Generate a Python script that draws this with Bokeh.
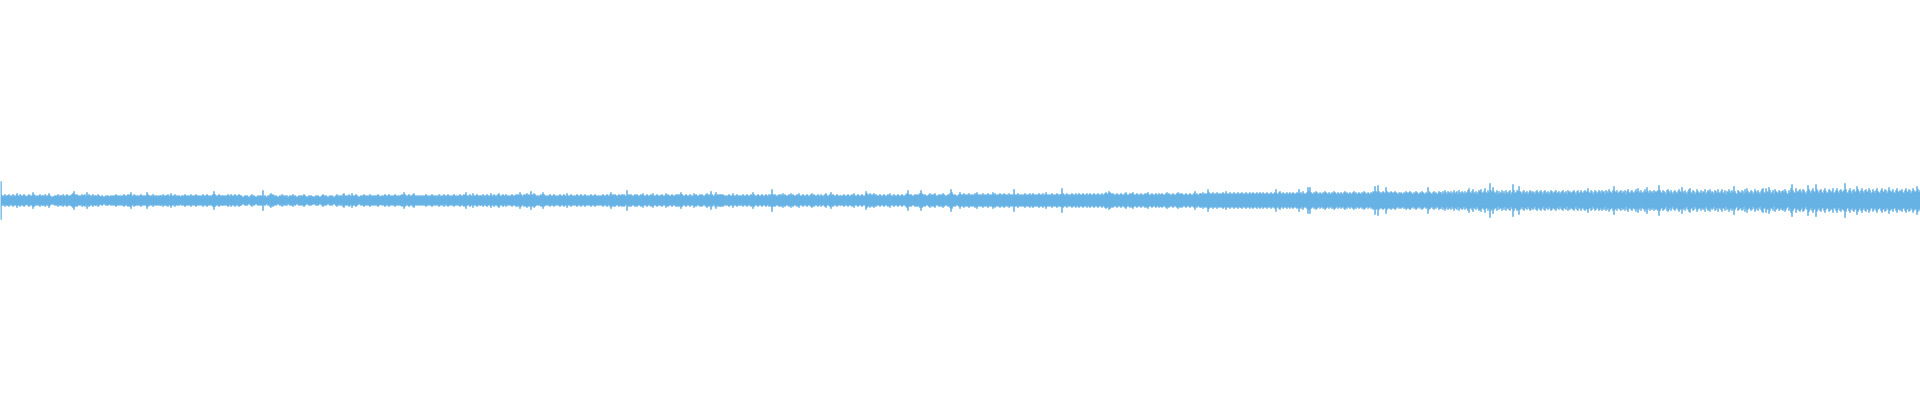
from bokeh.plotting import figure
from bokeh.models import ColumnDataSource, Range1d
from bokeh.embed import file_html
from bokeh.resources import INLINE

# Waveform peak amplitudes (half-height), read segment by segment (240 bars each)
amp_a = [
    19,5,4,5,6,4,5,5,6,4,5,4,6,5,4,5,7,5,4,6,
    5,4,5,6,5,4,4,5,6,5,4,5,8,6,5,4,5,4,5,6,
    4,5,5,4,6,5,4,5,7,5,4,3,4,4,5,4,5,6,4,5,
    5,4,6,5,4,5,6,5,4,5,5,6,7,9,6,5,6,5,4,5,
    4,6,5,5,6,4,8,5,6,5,4,5,6,4,5,5,4,6,5,4,
    4,5,4,3,4,5,4,5,4,4,5,4,5,4,5,6,5,4,5,4,
    5,4,5,6,5,4,5,6,5,6,8,5,4,6,5,5,4,5,4,5,
    6,5,4,5,4,5,8,6,5,4,5,4,6,5,4,5,4,5,4,5,
    5,4,6,5,4,5,5,6,4,5,7,5,4,5,6,4,5,4,5,4,
    4,5,4,5,6,5,4,5,4,5,6,4,5,4,5,6,5,4,5,4,
    5,4,6,5,4,5,6,5,4,5,4,5,6,9,6,5,4,5,6,5,
    4,5,5,4,5,4,5,6,5,4,6,5,4,5,6,5,4,5,6,5,
]
amp_b = [
    5,4,3,4,5,4,5,4,3,4,5,6,4,5,4,3,4,5,4,5,
    4,5,10,4,5,4,3,5,4,6,7,5,6,5,4,5,4,3,4,5,
    4,6,5,4,5,4,5,3,4,5,4,5,6,4,5,4,3,4,5,4,
    5,4,5,6,5,4,3,4,5,4,5,4,4,3,4,5,4,5,4,3,
    4,5,6,5,4,5,4,3,4,5,4,5,4,3,4,5,6,4,5,4,
    5,4,6,7,5,4,5,4,6,5,4,7,5,4,5,6,5,4,3,4,
    5,4,5,6,5,4,5,4,5,6,5,4,5,4,5,4,5,6,5,4,
    4,5,4,5,6,5,4,5,6,5,4,5,4,5,6,5,4,5,4,5,
    5,6,5,8,6,5,4,5,6,5,4,5,6,7,5,4,5,4,5,4,
    5,4,5,4,5,6,5,4,5,4,5,6,5,4,5,4,5,4,6,5,
    4,5,4,6,5,4,5,6,5,4,5,4,5,6,5,4,5,4,5,6,
    5,4,5,6,5,8,5,4,5,6,5,4,7,5,4,5,6,5,4,5,
]
amp_c = [
    5,4,6,5,4,5,6,5,4,5,7,5,4,6,5,4,5,6,7,5,
    4,5,6,5,4,6,5,4,5,4,5,6,5,4,5,6,5,6,5,8,
    6,5,4,6,5,6,7,5,6,5,9,6,5,7,6,5,4,5,4,5,
    6,5,8,6,5,4,5,4,5,6,5,4,5,6,5,4,5,4,5,6,
    5,4,5,6,5,4,7,5,4,5,6,5,4,5,4,5,6,5,4,5,
    6,5,4,5,6,5,4,5,4,5,6,5,4,5,6,5,4,5,4,5,
    4,5,6,5,4,5,6,5,4,6,8,5,6,5,6,5,4,5,6,5,
    5,6,5,6,5,4,10,5,6,5,6,5,4,5,6,5,6,5,4,5,
    6,5,7,5,4,5,6,5,4,5,6,5,7,5,4,5,6,5,4,5,
    5,6,5,4,5,7,5,6,5,4,5,6,5,4,5,6,5,6,5,6,
    8,6,5,4,5,6,5,4,5,6,5,4,5,7,5,6,5,4,5,6,
    5,6,5,4,5,6,7,5,6,5,9,6,5,4,6,8,5,6,5,6,
]
amp_d = [
    6,5,6,5,4,5,4,5,6,5,4,5,7,5,4,5,6,5,4,5,
    5,4,6,5,4,5,6,5,4,5,6,5,8,6,5,4,5,6,5,4,
    5,6,5,4,5,6,5,4,6,5,6,11,6,5,6,5,4,5,6,5,
    6,5,7,5,6,5,4,5,6,5,7,5,6,5,4,5,6,5,7,5,
    4,5,6,5,4,5,6,5,4,5,6,7,5,6,5,4,5,6,5,4,
    6,5,4,5,6,7,5,4,5,6,8,5,6,5,4,5,6,5,4,5,
    5,4,5,6,5,4,5,6,5,4,5,6,5,7,5,4,5,6,5,4,
    5,6,5,4,5,9,7,6,5,7,6,5,6,7,5,6,5,4,5,6,
    5,4,5,6,5,4,5,6,5,7,5,4,5,6,5,4,5,6,5,4,
    5,6,5,4,5,6,7,10,6,5,6,5,4,5,6,5,6,5,6,7,
    10,7,6,5,6,5,4,5,6,7,5,6,5,6,7,5,4,5,6,5,
    6,5,7,6,5,4,5,6,5,7,11,8,6,5,6,5,4,5,6,8,
]
amp_e = [
    6,5,6,7,5,6,5,6,7,5,6,5,6,5,7,6,8,6,5,6,
    5,6,7,5,6,5,6,7,5,6,5,6,8,6,7,5,6,5,6,7,
    6,5,6,7,6,5,6,5,7,6,5,6,5,11,6,5,6,7,5,6,
    5,6,5,6,7,5,6,5,6,7,5,6,7,6,5,6,5,6,7,6,
    5,6,7,5,6,8,6,5,6,5,6,7,5,6,5,6,7,6,5,6,
    6,12,7,6,5,6,7,5,6,5,6,7,6,5,6,7,5,6,7,6,
    5,6,7,6,5,6,7,5,6,7,6,5,6,7,6,5,6,7,6,5,
    6,7,5,6,7,8,7,6,9,8,7,6,7,6,5,6,7,6,5,6,
    7,6,5,6,7,8,6,5,6,7,6,7,8,6,5,6,7,6,5,6,
    7,6,5,6,7,6,7,8,6,5,6,7,6,5,6,7,6,5,7,6,
    6,7,6,5,6,7,8,6,7,6,5,6,7,6,5,6,7,8,6,7,
    6,7,6,5,6,7,6,5,6,7,6,5,6,7,9,6,7,5,6,7,
]
amp_f = [
    7,6,8,6,7,6,7,11,8,7,6,7,8,6,7,6,8,7,6,7,
    6,7,8,7,6,9,7,6,7,8,6,7,6,8,7,6,7,8,6,7,
    7,8,6,7,6,8,7,6,7,8,6,7,8,7,6,7,8,6,7,8,
    7,6,8,7,6,7,8,6,7,6,8,7,6,7,8,11,7,6,8,9,
    7,6,8,7,6,7,8,6,7,8,6,7,8,7,6,7,8,7,11,7,
    8,6,9,7,6,7,8,13,9,13,8,7,6,8,7,9,8,7,6,8,
    7,6,8,7,9,8,7,6,8,7,6,8,7,9,8,7,6,8,7,6,
    8,7,6,8,9,7,8,6,7,8,6,7,8,9,7,8,6,7,8,7,
    6,8,7,9,8,7,6,8,7,6,8,7,9,8,14,9,8,15,9,8,
    7,8,9,8,7,13,9,8,7,8,9,8,7,8,9,8,7,6,8,7,
    8,7,6,8,7,9,8,7,8,9,8,7,6,8,7,9,8,7,6,8,
    7,9,8,7,6,8,7,13,9,8,7,6,8,9,7,8,6,7,9,8,
]
amp_g = [
    8,6,9,7,10,8,6,9,8,7,9,6,8,10,7,8,9,6,10,8,
    7,9,8,6,9,7,8,10,12,8,7,9,11,7,8,9,6,8,10,9,
    11,8,7,9,12,8,7,10,8,17,10,8,13,9,7,8,10,6,9,7,
    8,10,7,9,6,10,8,7,9,10,6,8,16,10,7,8,10,9,14,9,
    8,6,9,10,7,8,9,6,8,10,9,7,9,8,6,9,10,8,7,9,
    10,8,6,9,10,7,8,9,6,8,10,9,7,8,9,10,7,8,9,6,
    8,9,10,7,8,9,6,10,8,9,7,8,9,10,8,6,9,10,7,8,
    10,8,7,9,10,8,9,12,8,7,10,9,6,8,10,9,7,8,10,9,
    7,10,8,9,6,10,9,7,11,9,8,7,10,14,9,8,10,7,8,9,
    10,7,9,8,10,6,9,11,8,7,9,10,8,7,9,11,8,12,9,7,
    10,8,7,9,11,8,13,9,7,10,8,9,7,10,9,8,9,10,15,10,
    8,7,10,9,8,6,10,11,9,7,10,8,6,9,10,8,7,9,11,9,
]
amp_h = [
    8,13,9,7,10,8,6,9,11,12,8,7,10,9,6,8,11,9,7,8,
    10,7,9,8,11,6,8,10,9,11,7,9,8,6,10,9,7,11,8,7,
    9,11,7,8,10,6,9,8,11,9,7,10,8,14,9,7,6,10,9,8,
    7,10,9,6,11,8,12,9,7,8,10,9,6,8,11,9,7,10,8,6,
    9,11,12,8,7,12,9,8,13,10,7,8,10,6,11,9,8,7,10,9,
    7,9,10,8,11,9,7,6,10,8,12,16,10,8,7,12,9,8,10,11,
    9,7,11,10,8,6,9,15,11,9,7,10,12,9,8,16,11,9,7,10,
    11,8,7,10,12,9,7,8,11,10,8,9,12,7,8,10,12,9,7,10,
    11,8,9,10,17,11,8,7,10,12,9,7,10,11,8,9,14,11,9,7,
    10,12,9,7,10,11,8,9,12,10,7,8,11,9,7,10,12,9,8,7,
    10,12,9,8,11,10,7,9,13,10,8,9,11,8,7,10,12,9,8,10,
    9,11,8,7,10,12,9,8,11,10,7,9,12,10,8,9,14,11,8,10,
]

segments = [amp_a, amp_b, amp_c, amp_d, amp_e, amp_f, amp_g, amp_h]
lengths = [len(s) for s in segments]
if any(n != 240 for n in lengths):
    raise SystemExit("segment lengths: %s" % lengths)

amp = [v for s in segments for v in s]
idx = list(range(len(amp)))

src = ColumnDataSource(dict(
    left=idx,
    right=[i + 1 for i in idx],
    top=amp,
    bottom=[-v for v in amp],
))

p = figure(width=1920, height=400, output_backend="svg", toolbar_location=None,
           x_range=Range1d(0, len(amp)), y_range=Range1d(-200, 200),
           min_border=0)
p.quad(left="left", right="right", top="top", bottom="bottom", source=src,
       fill_color="#5DADE2", line_color="#5DADE2", line_width=0.5)
p.axis.visible = False
p.grid.visible = False
p.outline_line_color = None
p.background_fill_color = "white"
p.border_fill_color = "white"

open("out.html", "w").write(file_html(p, INLINE))
